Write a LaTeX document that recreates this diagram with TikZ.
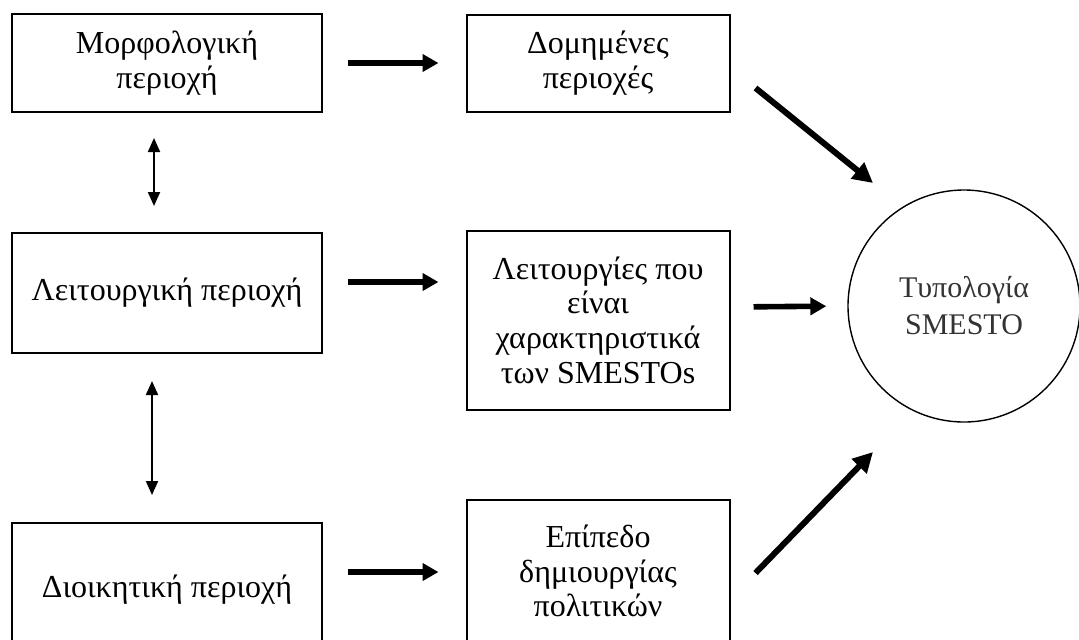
\documentclass[tikz,border=0pt]{standalone}
\usepackage{fontspec}
\setmainfont{Liberation Serif}
\usetikzlibrary{arrows.meta}

\begin{document}
\begin{tikzpicture}[x=0.5pt,y=-0.5pt,
  pbox/.style={draw=black,line width=1pt,align=center,
    font=\fontsize{16}{17.3}\selectfont,inner sep=0pt},
  wbox/.style={pbox,minimum width=155pt},
  nbox/.style={pbox,minimum width=131.5pt},
  arr/.style={-{Triangle[length=8pt,width=8.5pt]},line width=2.8pt},
  darr/.style={-{Triangle[length=10pt,width=10pt]},line width=3pt},
  varr/.style={{Triangle[length=7pt,width=6pt]}-{Triangle[length=7pt,width=6pt]},line width=1pt}
]
  \useasboundingbox (0,0) rectangle (1079,639);

  % left column
  \node[wbox,minimum height=49pt] (morf) at (167,63) {Μορφολογική\\περιοχή};
  \node[wbox,minimum height=60pt] (leit) at (167,293) {Λειτουργική περιοχή};
  \node[wbox,minimum height=67pt] (dioi) at (167,590) {Διοικητική περιοχή};

  % middle column
  \node[nbox,minimum height=48.5pt] (domi) at (598,63) {Δομημένες\\περιοχές};
  \node[nbox,minimum height=89.5pt] (func) at (598,320) {Λειτουργίες που\\είναι\\χαρακτηριστικά\\των SMESTOs};
  \node[nbox,minimum height=71pt] (epip) at (598,571) {Επίπεδο\\δημιουργίας\\πολιτικών};

  % result
  \node[circle,draw,line width=0.7pt,minimum size=116pt,align=center,
    font=\fontsize{15}{18.5}\selectfont,text=black!80] (typo) at (964,306) {Τυπολογία\\SMESTO};

  % vertical links
  \draw[varr,shorten <=12.5pt,shorten >=13pt] ([shift={(-13,0)}]morf.south) -- ([shift={(-13,0)}]leit.north);
  \draw[varr,shorten <=13.5pt,shorten >=13.5pt] ([shift={(-15,0)}]leit.south) -- ([shift={(-15,0)}]dioi.north);

  % left to middle
  \draw[arr,shorten <=12.5pt,shorten >=13.5pt] (morf) -- (domi);
  \draw[arr,shorten <=12.5pt,shorten >=13.5pt] ([shift={(0,-11)}]leit.east) -- ([shift={(0,-38)}]func.west);
  \draw[arr,shorten <=12.5pt,shorten >=13.5pt] ([shift={(0,-18)}]dioi.east) -- ([shift={(0,1)}]epip.west);

  % middle to result
  \draw[darr] ([shift={(25,25)}]domi.east) -- ([shift={(-91,-123)}]typo.center);
  \draw[arr,shorten <=11.5pt,shorten >=10.5pt] ([shift={(0,-13)}]func.east) -- (typo.west);
  \draw[darr] ([shift={(25,2)}]epip.east) -- ([shift={(-91,146)}]typo.center);
\end{tikzpicture}
\end{document}
